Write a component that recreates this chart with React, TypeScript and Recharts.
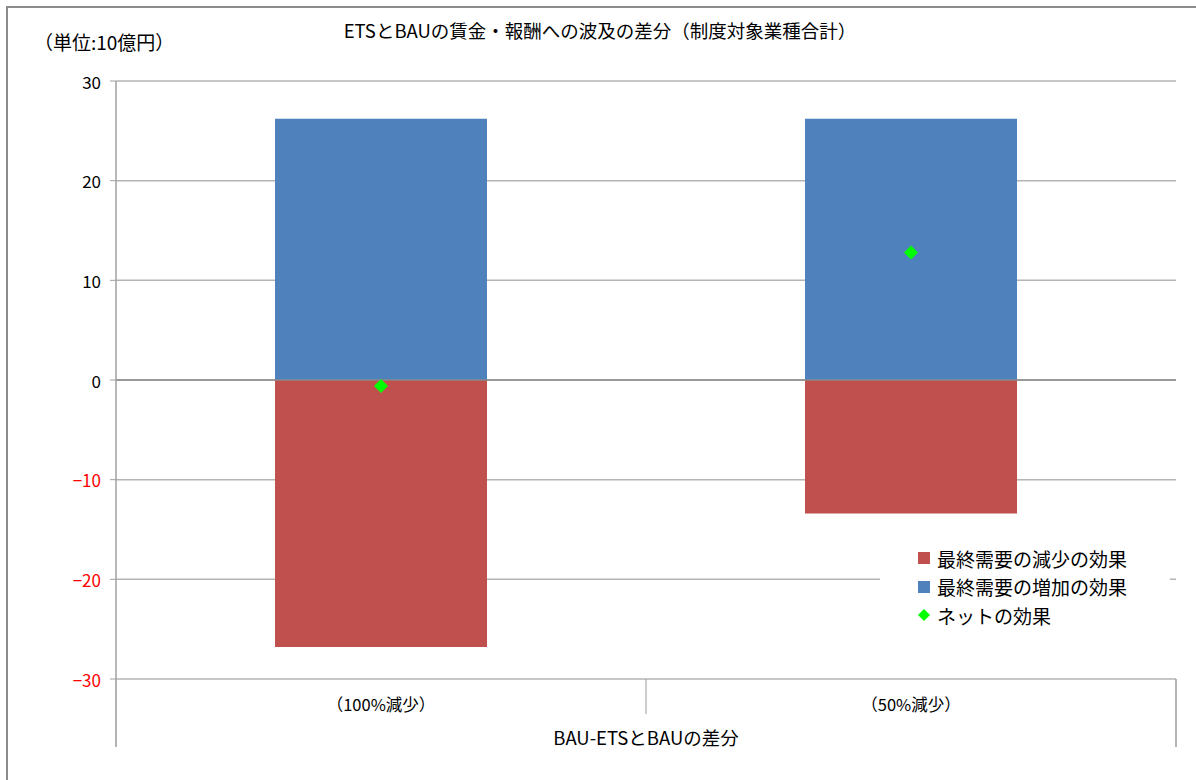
import React from 'react';
import {
  ComposedChart,
  Bar,
  Scatter,
  XAxis,
  YAxis,
  CartesianGrid,
  ReferenceLine,
  Legend,
} from 'recharts';

const categories = ['（100%減少）', '（50%減少）'];
const increaseValues = [26.2, 26.2];
const decreaseValues = [-26.8, -13.4];
const netValues = [-0.6, 12.8];
const yTicks = [-30, -20, -10, 0, 10, 20, 30];

const seriesNames = {
  decrease: '最終需要の減少の効果',
  increase: '最終需要の増加の効果',
  net: 'ネットの効果',
};
const chartTitle = 'ETSとBAUの賃金・報酬への波及の差分（制度対象業種合計）';
const unitLabel = '（単位:10億円）';
const axisTitle = 'BAU-ETSとBAUの差分';

const COLORS = {
  increase: '#4F81BD',
  decrease: '#C0504D',
  net: '#00FF00',
};

const FONT = '"Noto Sans CJK JP", "Noto Sans", sans-serif';

const data = categories.map((c, i) => ({
  category: c,
  increase: increaseValues[i],
  decrease: decreaseValues[i],
  net: netValues[i],
}));

const YTick = (props: any) => {
  const { x, y, payload } = props;
  const v = payload.value as number;
  const label = v < 0 ? '\u2212' + Math.abs(v) : String(v);
  return (
    <text
      x={x}
      y={y}
      textAnchor="end"
      dominantBaseline="central"
      fill={v < 0 ? '#FF0000' : '#000000'}
      fontSize={17}
      fontFamily={FONT}
    >
      {label}
    </text>
  );
};

const XTick = (props: any) => {
  const { x, y, payload, index } = props;
  const half = payload && typeof payload.offset === 'number' ? payload.offset : 265;
  const n = categories.length;
  const lineColor = '#9a9a9a';
  return (
    <g>
      {index === 0 && (
        <line x1={x - half} y1={y} x2={x - half} y2={y + 68} stroke={lineColor} strokeWidth={1.5} />
      )}
      {index < n - 1 && (
        <line x1={x + half} y1={y} x2={x + half} y2={y + 35} stroke={lineColor} strokeWidth={1} />
      )}
      {index === n - 1 && (
        <line x1={x + half} y1={y} x2={x + half} y2={y + 68} stroke={lineColor} strokeWidth={1.5} />
      )}
      <text
        x={x}
        y={y + 25}
        textAnchor="middle"
        dominantBaseline="central"
        fontSize={16.5}
        fontFamily={FONT}
        fill="#000"
      >
        {payload.value}
      </text>
      {index === 0 && (
        <text
          x={x + (n - 1) * half}
          y={y + 58}
          textAnchor="middle"
          dominantBaseline="central"
          fontSize={18.5}
          fontFamily={FONT}
          fill="#000"
        >
          {axisTitle}
        </text>
      )}
    </g>
  );
};

const Diamond = (props: any) => {
  const { cx, cy } = props;
  if (cx == null || cy == null) return null;
  const r = 7;
  return (
    <polygon
      points={`${cx},${cy - r} ${cx + r},${cy} ${cx},${cy + r} ${cx - r},${cy}`}
      fill={COLORS.net}
    />
  );
};

const LegendContent = () => {
  const items = [
    { name: seriesNames.decrease, color: COLORS.decrease, type: 'square' },
    { name: seriesNames.increase, color: COLORS.increase, type: 'square' },
    { name: seriesNames.net, color: COLORS.net, type: 'diamond' },
  ];
  return (
    <div style={{ background: '#fff', padding: '4px 0 6px 38px', fontFamily: FONT }}>
      {items.map((it) => (
        <div key={it.name} style={{ display: 'flex', alignItems: 'center', height: 28.5 }}>
          <svg width={14} height={14} style={{ marginRight: 5 }}>
            {it.type === 'square' ? (
              <rect x={0} y={1} width={12} height={12} fill={it.color} />
            ) : (
              <polygon points="6,1 12,7 6,13 0,7" fill={it.color} />
            )}
          </svg>
          <span style={{ fontSize: 19, color: '#000', whiteSpace: 'nowrap' }}>{it.name}</span>
        </div>
      ))}
    </div>
  );
};

export default function App() {
  return (
    <div
      style={{
        position: 'absolute',
        left: 0,
        top: 0,
        width: 1196,
        height: 780,
        background: '#fff',
        overflow: 'hidden',
        fontFamily: FONT,
      }}
    >
      <div
        style={{
          position: 'absolute',
          left: 6,
          top: 6,
          width: 1400,
          height: 1000,
          borderTop: '2px solid #8c8c8c',
          borderLeft: '2px solid #8c8c8c',
        }}
      />
      <div
        style={{
          position: 'absolute',
          left: 0,
          width: 1196,
          top: 18,
          textAlign: 'center',
          fontSize: 18.5,
          lineHeight: '24px',
          color: '#000',
        }}
      >
        <span style={{ position: 'relative', left: 2 }}>{chartTitle}</span>
      </div>
      <div
        style={{
          position: 'absolute',
          left: 34,
          top: 30,
          fontSize: 19,
          lineHeight: '24px',
          color: '#000',
          whiteSpace: 'nowrap',
        }}
      >
        {unitLabel}
      </div>
      <div style={{ position: 'absolute', left: 0, top: 0 }}>
        <ComposedChart
          width={1196}
          height={780}
          data={data}
          stackOffset="sign"
          barCategoryGap="30%"
          margin={{ top: 81, right: 20, bottom: 0, left: 0 }}
        >
          <CartesianGrid horizontal vertical={false} stroke="#b4b4b4" strokeWidth={1.5} />
          <XAxis
            dataKey="category"
            height={101}
            axisLine={false}
            tickLine={false}
            tickSize={0}
            tickMargin={0}
            tick={<XTick />}
            interval={0}
          />
          <YAxis
            width={116}
            domain={[-30, 30]}
            ticks={yTicks}
            interval={0}
            axisLine={{ stroke: '#a0a0a0', strokeWidth: 1.5 }}
            tickLine={{ stroke: '#a0a0a0' }}
            tickSize={6}
            tickMargin={9}
            tick={<YTick />}
          />
          <ReferenceLine y={0} stroke="#8a8a8a" strokeWidth={1.5} />
          <Bar
            dataKey="increase"
            name={seriesNames.increase}
            stackId="a"
            fill={COLORS.increase}
            isAnimationActive={false}
          />
          <Bar
            dataKey="decrease"
            name={seriesNames.decrease}
            stackId="a"
            fill={COLORS.decrease}
            isAnimationActive={false}
          />
          <Scatter
            dataKey="net"
            name={seriesNames.net}
            fill={COLORS.net}
            shape={<Diamond />}
            isAnimationActive={false}
          />
          <Legend
            content={<LegendContent />}
            layout="vertical"
            align="center"
            verticalAlign="middle"
            wrapperStyle={{ position: 'absolute', left: 880, top: 540, width: 290 }}
          />
        </ComposedChart>
      </div>
    </div>
  );
}
